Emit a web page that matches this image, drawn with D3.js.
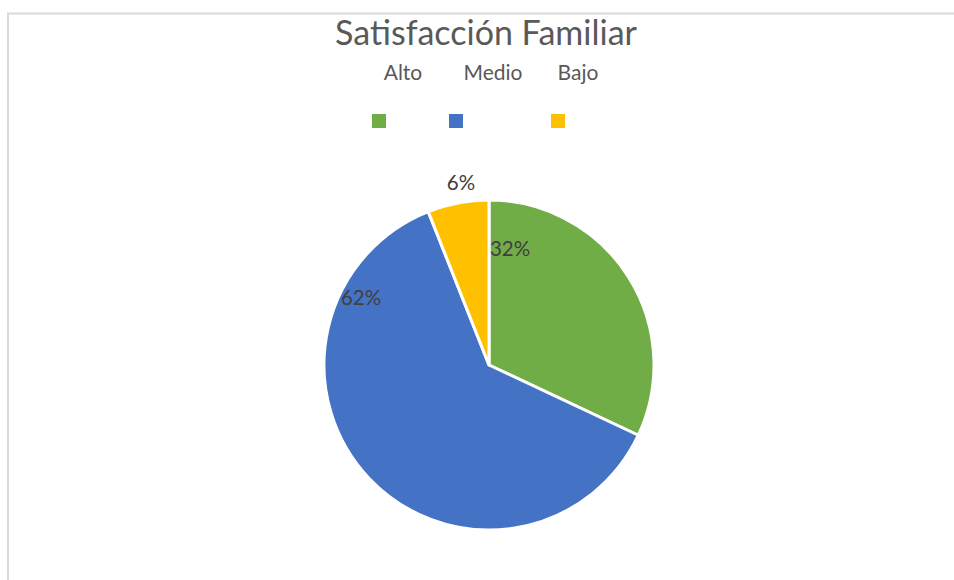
<!DOCTYPE html>
<html><head><meta charset="utf-8">
<script src="https://cdn.jsdelivr.net/npm/d3@7"></script>
<style>body{margin:0;background:#fff}svg{display:block}</style>
</head><body>
<script>
const categories = ["Alto", "Medio", "Bajo"];
const values = [32, 62, 6];
const colors = ["#70AD47", "#4472C4", "#FFC000"];
const title = "Satisfacción Familiar";

const W = 954, H = 580;
const svg = d3.select("body").append("svg").attr("width", W).attr("height", H);
const font = "Lato, 'Open Sans', sans-serif";

// frame
svg.append("path").attr("d", `M8,${H} L8,13.5 L${W},13.5`).attr("fill", "none")
  .attr("stroke", "#d9d9d9").attr("stroke-width", 2);

svg.append("text").attr("x", 486).attr("y", 45).attr("text-anchor", "middle")
  .attr("font-family", font).attr("font-size", 34).attr("fill", "#595959").text(title);

// legend
const legText = [403, 493, 578];
const legSq = [379, 456, 558];
categories.forEach((c, i) => {
  svg.append("text").attr("x", legText[i]).attr("y", 80).attr("text-anchor", "middle")
    .attr("font-family", font).attr("font-size", 21).attr("fill", "#595959").text(c);
  svg.append("rect").attr("x", legSq[i] - 7).attr("y", 114).attr("width", 14).attr("height", 14)
    .attr("fill", colors[i]);
});

const cx = 489, cy = 365, r = 165;
const pie = d3.pie().sort(null).value(d => d)(values);
const arc = d3.arc().innerRadius(0).outerRadius(r);
const g = svg.append("g").attr("transform", `translate(${cx},${cy})`);
g.selectAll("path").data(pie).join("path").attr("d", arc)
  .attr("fill", (d, i) => colors[i]).attr("stroke", "#fff").attr("stroke-width", 3)
  .attr("stroke-linejoin", "round");

const labelPos = [[21, -109], [-128, -60], [-28, -175]];
pie.forEach((d, i) => {
  g.append("text").attr("x", labelPos[i][0]).attr("y", labelPos[i][1]).attr("text-anchor", "middle")
    .attr("font-family", font).attr("font-size", 20.5).attr("fill", "#404040")
    .text(d3.format(".0%")(d.data / d3.sum(values)));
});
</script>
</body></html>
